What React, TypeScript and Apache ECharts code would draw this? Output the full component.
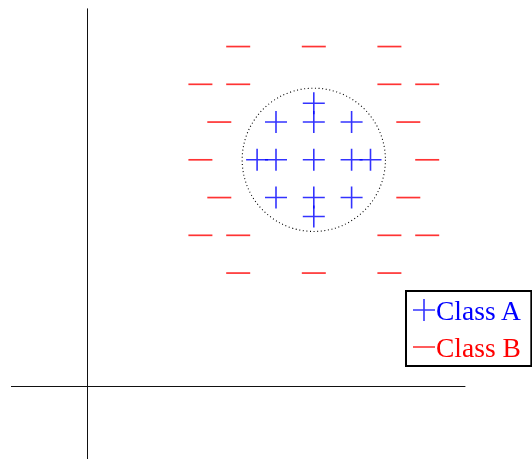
import React, { useEffect, useRef } from "react";
import * as echarts from "echarts";

// Class A (plus markers) points
const classAX = [12, 10, 12, 14, 9, 10, 12, 14, 15, 10, 12, 14, 12];
const classAY = [15, 14, 14, 14, 12, 12, 12, 12, 12, 10, 10, 10, 9];
// Class B (minus markers) points
const classBX = [8, 12, 16, 6, 8, 16, 18, 7, 17, 6, 18, 7, 17, 6, 8, 16, 18, 8, 12, 16];
const classBY = [18, 18, 18, 16, 16, 16, 16, 14, 14, 12, 12, 10, 10, 8, 8, 8, 8, 6, 6, 6];
// Decision circle
const circleCenter = [12, 12];
const circleRadius = [3.79];
const seriesNames = ["Class A", "Class B"];

const PLUS = "path://M0,10.2H22V11.8H0Z M10.2,0H11.8V22H10.2Z";
const MINUS = "path://M0,0H22V1.6H0Z";

export default function App() {
  const ref = useRef<HTMLDivElement>(null);
  useEffect(() => {
    const chart = echarts.init(ref.current!, null, { renderer: "svg" });
    const dataA = classAX.map((x, i) => [x, classAY[i]]);
    const dataB = classBX.map((x, i) => [x, classBY[i]]);
    chart.setOption({
      animation: false,
      grid: { left: 11.4, right: 67, top: 8.8, bottom: 0, containLabel: false },
      xAxis: {
        type: "value", min: -4, max: 20,
        axisLine: { onZero: true, lineStyle: { color: "#111", width: 1 } },
        axisTick: { show: false }, axisLabel: { show: false }, splitLine: { show: false },
      },
      yAxis: {
        type: "value", min: -3.85, max: 20,
        axisLine: { show: true, onZero: true, lineStyle: { color: "#111", width: 1 } },
        axisTick: { show: false }, axisLabel: { show: false }, splitLine: { show: false },
      },
      legend: {
        orient: "vertical",
        left: 406, top: 291,
        padding: [5, 9, 5, 7],
        backgroundColor: "#fff",
        borderColor: "#000", borderWidth: 2, borderRadius: 0,
        itemWidth: 22, itemHeight: 24, itemGap: 9,
        textStyle: { fontFamily: "Liberation Serif", fontSize: 27.5, padding: [0, 0, 0, -4] },
        data: [
          { name: seriesNames[0], icon: PLUS, textStyle: { color: "#0000ff" } },
          { name: seriesNames[1], icon: MINUS, textStyle: { color: "#ff0000" } },
        ],
      },
      series: [
        {
          type: "custom",
          name: "circle",
          silent: true,
          data: [[circleCenter[0], circleCenter[1], circleRadius[0]]],
          renderItem: (params: any, api: any) => {
            const c = api.coord([api.value(0), api.value(1)]);
            const r = api.size([api.value(2), 0])[0];
            return {
              type: "circle",
              shape: { cx: c[0], cy: c[1], r },
              style: { fill: "none", stroke: "#000", lineWidth: 1.1, lineDash: [1, 2.6] },
            };
          },
        },
        {
          type: "scatter",
          name: seriesNames[1],
          symbol: "rect",
          symbolSize: [24, 1.7],
          itemStyle: { color: "#ff0000" },
          data: dataB,
        },
        {
          type: "scatter",
          name: seriesNames[0],
          symbol: PLUS,
          symbolSize: 22,
          itemStyle: { color: "#0000ff" },
          data: dataA,
        },
      ],
    });
    return () => chart.dispose();
  }, []);
  return (
    <div
      ref={ref}
      style={{ position: "fixed", left: 0, top: 0, width: 532, height: 459 }}
    />
  );
}
